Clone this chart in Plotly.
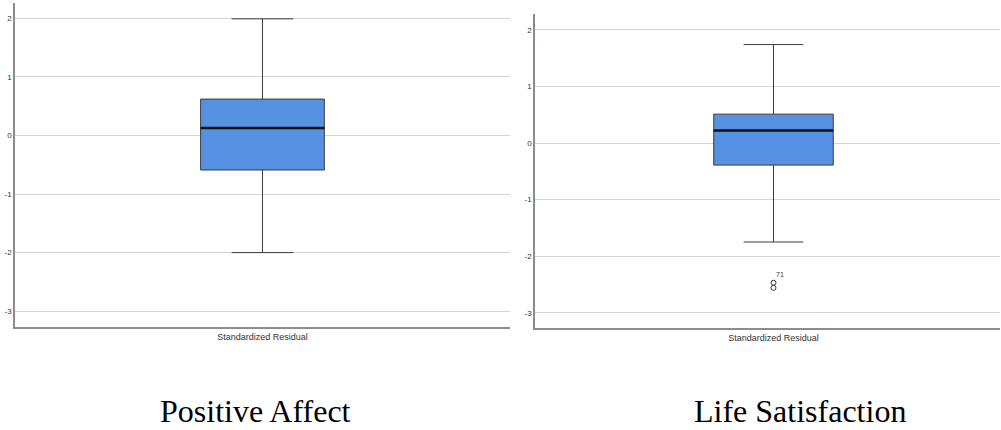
import plotly.graph_objects as go

# ---- data ----
category = ["Standardized Residual"]
panel_titles = ["Positive Affect", "Life Satisfaction"]

pa_lower = [-2.00]
pa_q1 = [-0.59]
pa_median = [0.125]
pa_q3 = [0.62]
pa_upper = [1.99]

ls_lower = [-1.75]
ls_q1 = [-0.39]
ls_median = [0.22]
ls_q3 = [0.51]
ls_upper = [1.74]
ls_outliers = [-2.47, -2.56]
ls_outlier_labels = ["71", ""]

yticks = [-3, -2, -1, 0, 1, 2]
yticklabels = ["-3", "-2", "-1", "0", "1", "2"]

# ---- style ----
FILL = "#5792E2"
EDGE = "#3a3a3a"
GRID = "#d4d4d4"
AXIS = "#8c8c8c"
BOX_W_LEFT = 0.25
BOX_W_RIGHT = 0.257

fig = go.Figure()

def add_box(xa, ya, lo, q1, med, q3, hi, w):
    fig.add_trace(go.Box(
        x=category, lowerfence=lo, q1=q1, median=med, q3=q3, upperfence=hi,
        width=w, whiskerwidth=0.5, fillcolor=FILL,
        line=dict(color=EDGE, width=1), xaxis=xa, yaxis=ya,
        boxpoints=False, showlegend=False, hoverinfo="skip"))
    # thicker median line
    fig.add_shape(type="line", xref=xa, yref=ya,
                  x0=-w / 2, x1=w / 2, y0=med[0], y1=med[0],
                  line=dict(color="#111111", width=2.5))

add_box("x", "y", pa_lower, pa_q1, pa_median, pa_q3, pa_upper, BOX_W_LEFT)
add_box("x2", "y2", ls_lower, ls_q1, ls_median, ls_q3, ls_upper, BOX_W_RIGHT)

fig.add_trace(go.Scatter(
    x=category * len(ls_outliers), y=ls_outliers, mode="markers",
    marker=dict(symbol="circle-open", size=5, color="#333333", line=dict(width=1)),
    xaxis="x2", yaxis="y2", showlegend=False, hoverinfo="skip"))
for v, lab in zip(ls_outliers, ls_outlier_labels):
    if lab:
        fig.add_annotation(x=category[0], y=v, xref="x2", yref="y2", text=lab,
                           showarrow=False, xshift=7, yshift=8,
                           font=dict(family="Liberation Sans, Arial", size=7, color="#333333"))

axis_common = dict(showline=True, linecolor=AXIS, linewidth=1.5, ticks="",
                   automargin=False,
                   tickfont=dict(family="Liberation Sans, Arial", size=8, color="#333333"))

fig.update_layout(
    width=1001, height=430,
    margin=dict(l=15, r=1, t=0, b=0),
    paper_bgcolor="white", plot_bgcolor="white",
    xaxis=dict(domain=[0, 0.5025], type="category", range=[-0.5, 0.5],
               showgrid=False, anchor="y", **axis_common),
    yaxis=dict(domain=[0.2395, 0.993], range=[-3.27, 2.26], tickvals=yticks,
               ticktext=yticklabels,
               showgrid=True, gridcolor=GRID, gridwidth=1, zeroline=False,
               anchor="x", **axis_common),
    xaxis2=dict(domain=[0.5279, 1.0], type="category", range=[-0.5129, 0.4871],
                showgrid=False, anchor="y2", **axis_common),
    yaxis2=dict(domain=[0.2372, 0.9674], range=[-3.27, 2.28], tickvals=yticks,
                ticktext=yticklabels,
                showgrid=True, gridcolor=GRID, gridwidth=1, zeroline=False,
                anchor="x2", **axis_common),
)
fig.update_xaxes(tickfont=dict(size=9))

for cx, title in zip([255, 800], panel_titles):
    fig.add_annotation(x=(cx - 15) / 985, y=(430 - 411) / 430, xref="paper", yref="paper",
                       xanchor="center", yanchor="middle",
                       text=title, showarrow=False,
                       font=dict(family="Liberation Serif, Times New Roman", size=32, color="black"))

fig.write_html("out.html", config={"displayModeBar": False},
               post_script="document.body.style.margin='0';document.body.style.overflow='hidden';")
